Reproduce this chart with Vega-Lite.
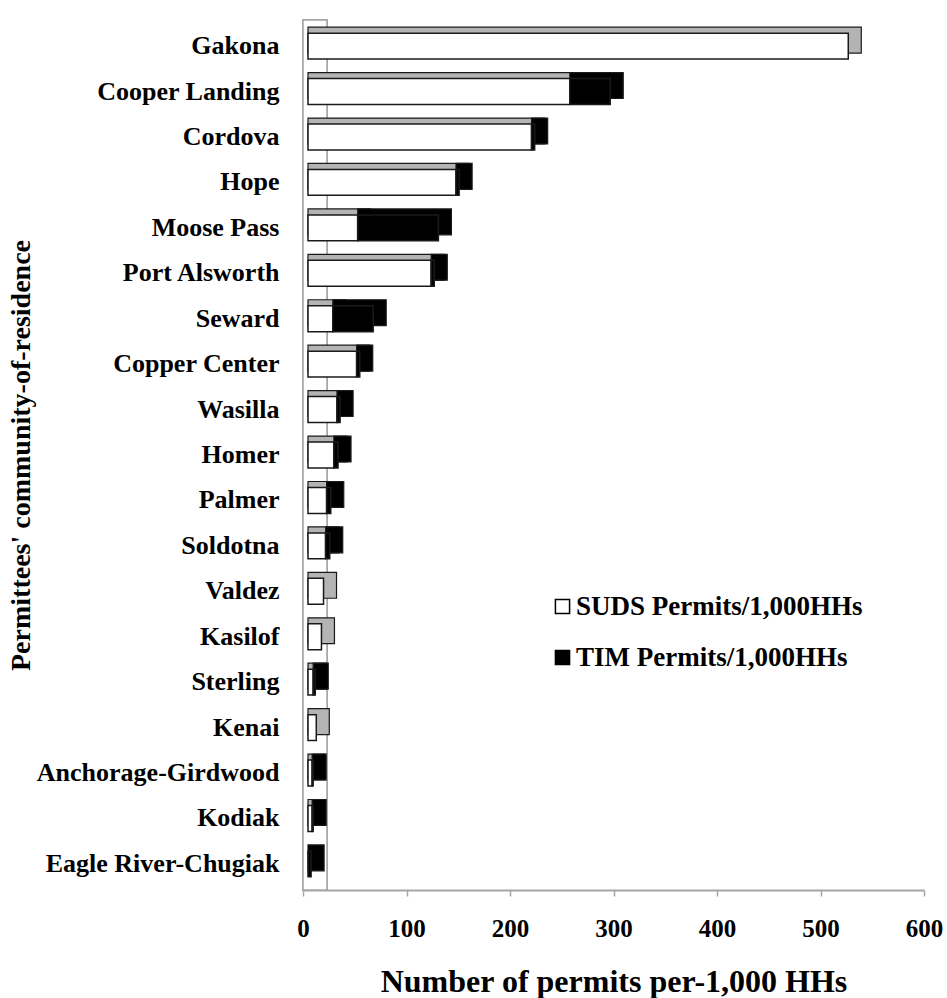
{
  "$schema": "https://vega.github.io/schema/vega-lite/v6.json",
  "width": 621,
  "height": 870,
  "autosize": {"type": "none"},
  "padding": {"left": 303, "top": 20, "right": 23, "bottom": 108},
  "background": "white",
  "config": {
    "view": {"stroke": null},
    "font": "Liberation Serif",
    "axisX": {
      "domainColor": "#a6a6a6", "domainWidth": 2,
      "tickColor": "#a6a6a6", "tickSize": 6, "tickWidth": 1.5,
      "labelFont": "Liberation Serif", "labelFontSize": 25, "labelFontWeight": "bold", "labelColor": "black",
      "labelPadding": 20, "labelFlush": false, "labelBound": false,
      "titleFont": "Liberation Serif", "titleFontSize": 32, "titleFontWeight": "bold", "titleColor": "black",
      "titlePadding": 25, "grid": false
    },
    "axisY": {
      "domainColor": "#a6a6a6", "domainWidth": 1.5, "ticks": false,
      "labelFont": "Liberation Serif", "labelFontSize": 26, "labelFontWeight": "bold", "labelColor": "black",
      "labelPadding": 24, "labelLimit": 400,
      "titleFont": "Liberation Serif", "titleFontSize": 28, "titleFontWeight": "bold", "titleColor": "black",
      "titlePadding": 68
    },
    "legend": {
      "orient": "none", "legendX": 246, "legendY": 573,
      "symbolType": "square", "symbolSize": 200, "symbolStrokeColor": "black", "symbolStrokeWidth": 1.5,
      "labelFont": "Liberation Serif", "labelFontSize": 27, "labelFontWeight": "bold", "labelColor": "black",
      "labelOffset": 0, "labelLimit": 500, "rowPadding": 23, "title": null
    }
  },
  "data": {
    "values": [
      {"community": "Gakona", "series": "SUDS Permits/1,000HHs", "value": 522},
      {"community": "Cooper Landing", "series": "SUDS Permits/1,000HHs", "value": 253},
      {"community": "Cordova", "series": "SUDS Permits/1,000HHs", "value": 216},
      {"community": "Hope", "series": "SUDS Permits/1,000HHs", "value": 143},
      {"community": "Moose Pass", "series": "SUDS Permits/1,000HHs", "value": 48},
      {"community": "Port Alsworth", "series": "SUDS Permits/1,000HHs", "value": 119},
      {"community": "Seward", "series": "SUDS Permits/1,000HHs", "value": 24},
      {"community": "Copper Center", "series": "SUDS Permits/1,000HHs", "value": 47},
      {"community": "Wasilla", "series": "SUDS Permits/1,000HHs", "value": 28},
      {"community": "Homer", "series": "SUDS Permits/1,000HHs", "value": 25},
      {"community": "Palmer", "series": "SUDS Permits/1,000HHs", "value": 18},
      {"community": "Soldotna", "series": "SUDS Permits/1,000HHs", "value": 17},
      {"community": "Valdez", "series": "SUDS Permits/1,000HHs", "value": 15},
      {"community": "Kasilof", "series": "SUDS Permits/1,000HHs", "value": 13},
      {"community": "Sterling", "series": "SUDS Permits/1,000HHs", "value": 5},
      {"community": "Kenai", "series": "SUDS Permits/1,000HHs", "value": 8},
      {"community": "Anchorage-Girdwood", "series": "SUDS Permits/1,000HHs", "value": 4},
      {"community": "Kodiak", "series": "SUDS Permits/1,000HHs", "value": 4},
      {"community": "Eagle River-Chugiak", "series": "SUDS Permits/1,000HHs", "value": 0},
      {"community": "Gakona", "series": "TIM Permits/1,000HHs", "value": 0},
      {"community": "Cooper Landing", "series": "TIM Permits/1,000HHs", "value": 39},
      {"community": "Cordova", "series": "TIM Permits/1,000HHs", "value": 3},
      {"community": "Hope", "series": "TIM Permits/1,000HHs", "value": 3},
      {"community": "Moose Pass", "series": "TIM Permits/1,000HHs", "value": 78},
      {"community": "Port Alsworth", "series": "TIM Permits/1,000HHs", "value": 3},
      {"community": "Seward", "series": "TIM Permits/1,000HHs", "value": 39},
      {"community": "Copper Center", "series": "TIM Permits/1,000HHs", "value": 3},
      {"community": "Wasilla", "series": "TIM Permits/1,000HHs", "value": 3},
      {"community": "Homer", "series": "TIM Permits/1,000HHs", "value": 4},
      {"community": "Palmer", "series": "TIM Permits/1,000HHs", "value": 4},
      {"community": "Soldotna", "series": "TIM Permits/1,000HHs", "value": 4},
      {"community": "Valdez", "series": "TIM Permits/1,000HHs", "value": 0},
      {"community": "Kasilof", "series": "TIM Permits/1,000HHs", "value": 0},
      {"community": "Sterling", "series": "TIM Permits/1,000HHs", "value": 2},
      {"community": "Kenai", "series": "TIM Permits/1,000HHs", "value": 0},
      {"community": "Anchorage-Girdwood", "series": "TIM Permits/1,000HHs", "value": 1},
      {"community": "Kodiak", "series": "TIM Permits/1,000HHs", "value": 1},
      {"community": "Eagle River-Chugiak", "series": "TIM Permits/1,000HHs", "value": 3}
    ]
  },
  "transform": [
    {"filter": "datum.value > 0"},
    {"stack": "value", "groupby": ["community"], "sort": [{"field": "series", "order": "ascending"}], "as": ["start", "end"]}
  ],
  "resolve": {"scale": {"fill": "independent"}},
  "layer": [
    {
      "description": "side wall of the 3-D plot box",
      "mark": {"type": "rect", "fill": "white", "stroke": "#a6a6a6", "strokeWidth": 1.5, "x2Offset": 24},
      "encoding": {
        "x": {"datum": 0, "type": "quantitative", "scale": {"domain": [0, 600], "nice": false},
          "axis": {"values": [0, 100, 200, 300, 400, 500, 600]},
          "title": "Number of permits per-1,000 HHs"},
        "x2": {"datum": 0}
      }
    },
    {
      "description": "top and end faces of each stacked segment, swept back in depth",
      "mark": {"type": "bar", "xOffset": 5, "x2Offset": 18, "yOffset": -6, "stroke": "#1a1a1a", "strokeWidth": 1.2},
      "encoding": {
        "y": {"field": "community", "type": "nominal",
          "sort": ["Gakona", "Cooper Landing", "Cordova", "Hope", "Moose Pass", "Port Alsworth", "Seward", "Copper Center", "Wasilla", "Homer", "Palmer", "Soldotna", "Valdez", "Kasilof", "Sterling", "Kenai", "Anchorage-Girdwood", "Kodiak", "Eagle River-Chugiak"],
          "scale": {"paddingInner": 0.43, "paddingOuter": 0.29},
          "title": "Permittees' community-of-residence"},
        "x": {"field": "start", "type": "quantitative",
          "axis": {"values": [0, 100, 200, 300, 400, 500, 600]},
          "title": "Number of permits per-1,000 HHs"},
        "x2": {"field": "end"},
        "fill": {"field": "series", "type": "nominal",
          "scale": {"domain": ["SUDS Permits/1,000HHs", "TIM Permits/1,000HHs"], "range": ["#b4b4b4", "#000000"]},
          "legend": null}
      }
    },
    {
      "description": "front faces of each stacked segment",
      "mark": {"type": "bar", "xOffset": 5, "x2Offset": 5, "stroke": "#1a1a1a", "strokeWidth": 1.5},
      "encoding": {
        "y": {"field": "community", "type": "nominal",
          "sort": ["Gakona", "Cooper Landing", "Cordova", "Hope", "Moose Pass", "Port Alsworth", "Seward", "Copper Center", "Wasilla", "Homer", "Palmer", "Soldotna", "Valdez", "Kasilof", "Sterling", "Kenai", "Anchorage-Girdwood", "Kodiak", "Eagle River-Chugiak"],
          "scale": {"paddingInner": 0.43, "paddingOuter": 0.29},
          "title": "Permittees' community-of-residence"},
        "x": {"field": "start", "type": "quantitative",
          "axis": {"values": [0, 100, 200, 300, 400, 500, 600]},
          "title": "Number of permits per-1,000 HHs"},
        "x2": {"field": "end"},
        "fill": {"field": "series", "type": "nominal",
          "scale": {"domain": ["SUDS Permits/1,000HHs", "TIM Permits/1,000HHs"], "range": ["#ffffff", "#000000"]}}
      }
    }
  ]
}
